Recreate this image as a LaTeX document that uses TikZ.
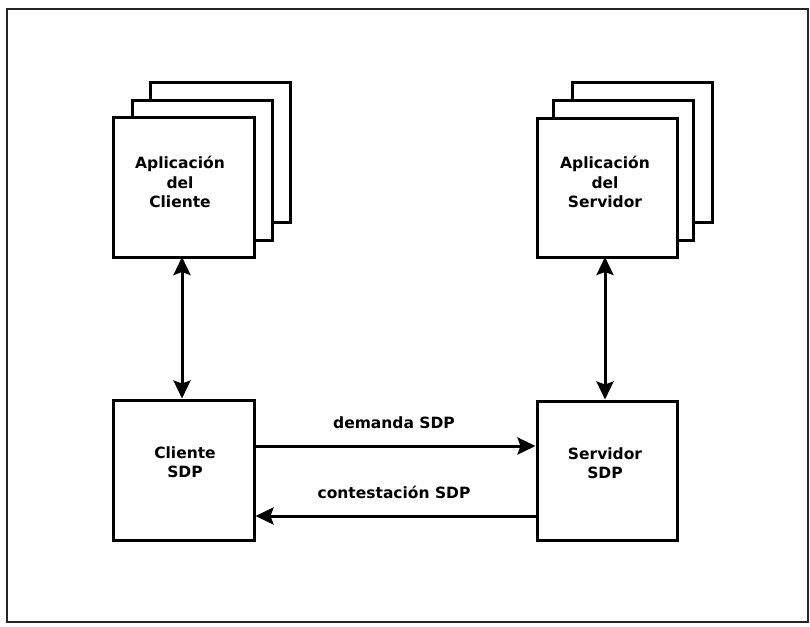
\documentclass[tikz,border=0pt]{standalone}
\usepackage{fontspec}
\setmainfont{DejaVu Sans}
\usetikzlibrary{arrows.meta}
\begin{document}
\begin{tikzpicture}[x=1pt,y=-1pt,
  box/.style={draw=black,line width=3pt,fill=white},
  lbl/.style={font=\bfseries\fontsize{15.5}{19.5}\selectfont,align=center,inner sep=0pt},
  tip/.tip={Stealth[length=18pt,width=17pt,inset=3pt]},
  link/.style={line width=3pt,-tip},
  dlink/.style={line width=3pt,tip-tip}]
\useasboundingbox (0,0) rectangle (810,626);
\fill[white] (0,0) rectangle (810,626);
% outer frame
\draw[line width=2pt,black!85] (7,9) rectangle (808,622);
% client application stack
\draw[box] (150,82) rectangle (290,222);
\draw[box] (132,100) rectangle (272,240);
\node[box,minimum width=141pt,minimum height=140pt,inner sep=0pt] (ca) at (183.5,187) {};
\node[lbl] (catext) at (180,182) {Aplicación\\del\\Cliente};
% server application stack
\draw[box] (572,82) rectangle (712,222);
\draw[box] (553,100) rectangle (693,240);
\node[box,minimum width=140pt,minimum height=139pt,inner sep=0pt] (sa) at (607,187.5) {};
\node[lbl] (satext) at (605,182) {Aplicación\\del\\Servidor};
% SDP client and server
\node[box,minimum width=141pt,minimum height=140pt,inner sep=0pt] (cs) at (183.5,470) {};
\node[lbl] at (185,462) {Cliente\\SDP};
\node[box,minimum width=140pt,minimum height=139pt,inner sep=0pt] (ss) at (607,470.5) {};
\node[lbl] at (605,463) {Servidor\\SDP};
% anchors on the application boxes
\coordinate (caB) at (182,257);
\coordinate (saB) at (605,257);
% connectors
\draw[dlink] (caB) -- (caB |- cs.north);
\draw[dlink] (saB) -- (saB |- ss.north);
\draw[link] (cs.east |- 0,446) -- (ss.west |- 0,446);
\draw[link] (ss.west |- 0,516) -- (cs.east |- 0,516);
\node[lbl,anchor=base] at (394,428) {demanda SDP};
\node[lbl,anchor=base] at (394,498) {contestación SDP};
\end{tikzpicture}
\end{document}
